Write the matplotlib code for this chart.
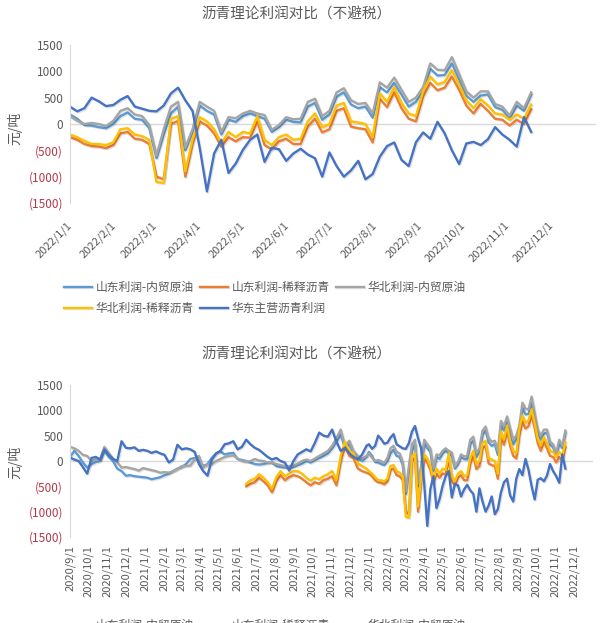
import numpy as np
import pandas as pd
import matplotlib
matplotlib.use('Agg')
import matplotlib.pyplot as plt
import matplotlib.patheffects as pe

plt.rcParams['font.family'] = ['Noto Sans CJK SC', 'DejaVu Sans']

title = '沥青理论利润对比（不避税）'
ylabel = '元/吨'
series_names = ['山东利润-内贸原油', '山东利润-稀释沥青', '华北利润-内贸原油',
                '华北利润-稀释沥青', '华东主营沥青利润']
colors = ['#5B9BD5', '#ED7D31', '#A5A5A5', '#FFC000', '#4472C4']

# weekly observations 2020-09-01 .. 2021-12-28 (70 points)
dates_hist = pd.date_range('2020-09-01', periods=70, freq='7D')
# 5-day observations 2022-01-01 .. 2022-11-17 (65 points)
dates_2022 = pd.date_range('2022-01-01', periods=65, freq='5D')

nan = np.nan

sd_crude_hist = [80, 200, 100, -30, -130, -60, -20, 0, 200, 80, 0, -150, -200, -290, -280,
                 -300, -310, -320, -330, -360, -340, -320, -280, -250, -200, -150, -120, -60,
                 40, 60, 0, -100, -60, 60, 150, 190, 130, 150, 160, 40, 20, 0, -30, -60, -70,
                 -60, -40, -30, -100, -120, -130, -140, -120,
                 -80, -50, 0, -30, 20, 60, 100, 150, 250, 380, 520, 250, 330, 150, 50, 0, 80]
sd_dil_hist = [nan] * 41 + [-500, -450, -420, -330, -400, -480, -620, -400, -280, -380, -320, -280,
                            -300, -350, -420, -480, -420, -450, -380, -350, -300, -480, 0, 280,
                            100, 50, -150, -200, -230]
hb_crude_hist = [280, 250, 200, 120, 100, 0, 30, 30, 280, 160, 50, -30, -130, -120, -140, -160,
                 -190, -140, -160, -180, -200, -230, -220, -230, -200, -160, -100, -100, -90, 30,
                 100, -130, -70, -60, 0, 40, 80, 100, 110, 50, 0, -20, 0, 40, 10, 0, -30, -30,
                 -60, -80, -100, -100, -90,
                 -50, 0, 30, 0, 50, 100, 150, 200, 300, 450, 620, 300, 400, 200, 100, 50, 100]
hb_dil_hist = [nan] * 41 + [-450, -380, -350, -260, -330, -420, -550, -320, -200, -300, -250, -200,
                            -200, -250, -330, -390, -330, -360, -300, -260, -200, -380, 100, 380,
                            200, 150, -50, -100, -150]
hd_main_hist = [65, 30, 0, -120, -250, 60, 80, 30, 230, 120, 40, 0, 390, 260, 250, 270, 200, 220,
                200, 160, 190, 150, 120, -30, 30, 320, 230, 250, 230, 180, -60, -200, -290, 30,
                150, 200, 330, 350, 390, 230, 280, 420, 330, 260, 220, 150, 80, 30, 60, 0, -30,
                -190, 0, 130, 180, 230, 190, 360, 560, 500, 480, 620, 380, 200, 260, 150, 80, 30,
                130, 300]

sd_crude_2022 = [180, 100, -20, -30, -60, -80, 0, 150, 220, 100,
                 80, -80, -650, -200, 200, 330, -500, -150, 350, 250,
                 180, -200, 80, 40, 150, 200, 150, 100, -150, -60,
                 80, 40, 30, 330, 400, 80, 180, 520, 600, 370,
                 300, 330, 120, 700, 600, 780, 560, 330, 420, 620,
                 1050, 920, 930, 1150, 850, 540, 420, 540, 560, 320,
                 270, 100, 350, 250, 560]
sd_dil_2022 = [-250, -300, -380, -420, -430, -460, -400, -180, -150, -280,
               -300, -380, -1000, -1050, 0, 60, -1000, -380, 50, -30,
               -180, -430, -250, -330, -250, -260, 50, -400, -480, -330,
               -280, -380, -380, -50, 100, -160, -100, 250, 300, -50,
               -80, -100, -350, 480, 320, 600, 300, 100, 50, 520,
               780, 640, 690, 900, 650, 350, 200, 380, 250, 100,
               80, -30, 80, 0, 280]
hb_crude_2022 = [150, 60, 0, 20, 0, -40, 60, 250, 300, 180,
                 150, -20, -600, -100, 330, 420, -450, -100, 420, 330,
                 250, -150, 130, 110, 200, 250, 200, 170, -110, -20,
                 130, 90, 100, 420, 480, 150, 250, 600, 680, 450,
                 380, 400, 200, 790, 690, 880, 650, 420, 500, 700,
                 1150, 1030, 1020, 1270, 950, 620, 500, 620, 620, 380,
                 330, 160, 420, 300, 600]
hb_dil_2022 = [-200, -250, -320, -380, -380, -400, -350, -100, -80, -200,
               -230, -300, -1100, -1120, 100, 150, -900, -300, 130, 50,
               -100, -370, -150, -250, -150, -180, 150, -300, -400, -250,
               -200, -300, -280, 50, 200, -60, 0, 350, 400, 50,
               30, 0, -250, 580, 420, 700, 400, 200, 150, 620,
               900, 750, 800, 1020, 750, 450, 300, 470, 350, 200,
               180, 80, 180, 100, 370]
hd_main_2022 = [330, 240, 300, 500, 430, 340, 360, 460, 530, 330,
                290, 250, 240, 350, 580, 690, 450, 250, -450, -1280,
                -560, -300, -930, -750, -490, -300, -200, -720, -450, -480,
                -700, -560, -470, -580, -650, -1000, -540, -800, -1000, -880,
                -700, -1050, -950, -620, -420, -350, -680, -800, -350, -160,
                -280, 40, -180, -500, -760, -370, -340, -400, -290, -60,
                -200, -300, -430, 130, -150]

y_ticks = [-1500, -1000, -500, 0, 500, 1000, 1500]

dates_all = dates_hist.append(dates_2022)
series = [
    sd_crude_hist + sd_crude_2022,
    sd_dil_hist + sd_dil_2022,
    hb_crude_hist + hb_crude_2022,
    hb_dil_hist + hb_dil_2022,
    hd_main_hist + hd_main_2022,
]

TXT = '#595959'
NEG = '#B3394B'
AXC = '#D9D9D9'


def fmt(v):
    return f'({abs(v)})' if v < 0 else f'{v}'


def draw(ax, xmin, xmax, month_ticks, rot):
    handles = []
    for vals, c, name in zip(series, colors, series_names):
        h, = ax.plot(dates_all, np.array(vals, dtype=float), color=c, lw=1.7, label=name,
                     solid_joinstyle='round',
                     path_effects=[pe.SimpleLineShadow(offset=(0.8, -0.8), alpha=0.12,
                                                       shadow_color='black'), pe.Normal()])
        handles.append(h)
    ax.set_xlim(pd.Timestamp(xmin), pd.Timestamp(xmax))
    ax.set_ylim(-1500, 1500)
    ax.axhline(0, color=AXC, lw=1, zorder=0)
    ax.set_yticks(y_ticks, labels=[fmt(v) for v in y_ticks])
    for lbl, v in zip(ax.get_yticklabels(), y_ticks):
        lbl.set_color(NEG if v < 0 else TXT)
        lbl.set_fontsize(8.5)
    labels = [f'{d.year}/{d.month}/1' for d in month_ticks]
    if rot == 45:
        ax.set_xticks(month_ticks, labels=labels, rotation=45, ha='right', va='center',
                      rotation_mode='anchor', fontsize=8, color=TXT)
        ax.tick_params(axis='x', pad=15)
    else:
        ax.set_xticks(month_ticks, labels=labels, rotation=90, ha='right', va='center',
                      rotation_mode='anchor', fontsize=8, color=TXT)
        ax.tick_params(axis='x', pad=6)
    ax.tick_params(length=0)
    ax.tick_params(axis='y', pad=5)
    for s in ['top', 'right', 'bottom']:
        ax.spines[s].set_visible(False)
    ax.spines['left'].set_color(AXC)
    ax.set_facecolor('white')
    return handles


fig = plt.figure(figsize=(6, 6.23), dpi=100)
fig.patch.set_facecolor('white')

ax1 = fig.add_axes([70 / 600, 1 - 203 / 623, 526 / 600, 158 / 623])
ax2 = fig.add_axes([70 / 600, 1 - 537 / 623, 523 / 600, 152 / 623])

h1 = draw(ax1, '2022-01-01', '2023-01-01',
          pd.date_range('2022-01-01', '2022-12-01', freq='MS'), 45)
h2 = draw(ax2, '2020-09-01', '2023-01-01',
          pd.date_range('2020-09-01', '2022-12-01', freq='MS'), 90)

for ytop, ylab_y, leg_top, h in [(15, 128, 281, h1), (355, 462, 619, h2)]:
    fig.text(296 / 600, 1 - ytop / 623, title, ha='center', va='center',
             fontsize=10.5, color=TXT)
    fig.text(15 / 600, 1 - ylab_y / 623, ylabel, ha='center', va='center',
             rotation=90, fontsize=10, color=TXT)
    order = [0, 3, 1, 4, 2]
    fig.legend([h[i] for i in order], [series_names[i] for i in order], ncol=3,
               loc='upper left', bbox_to_anchor=(64 / 600, 1 - leg_top / 623),
               frameon=False, fontsize=8.5, labelcolor=TXT, handlelength=2.4,
               handletextpad=0.3, columnspacing=0.5, labelspacing=0.65,
               borderpad=0, borderaxespad=0)

fig.savefig('out.png', dpi=100, facecolor='white')
